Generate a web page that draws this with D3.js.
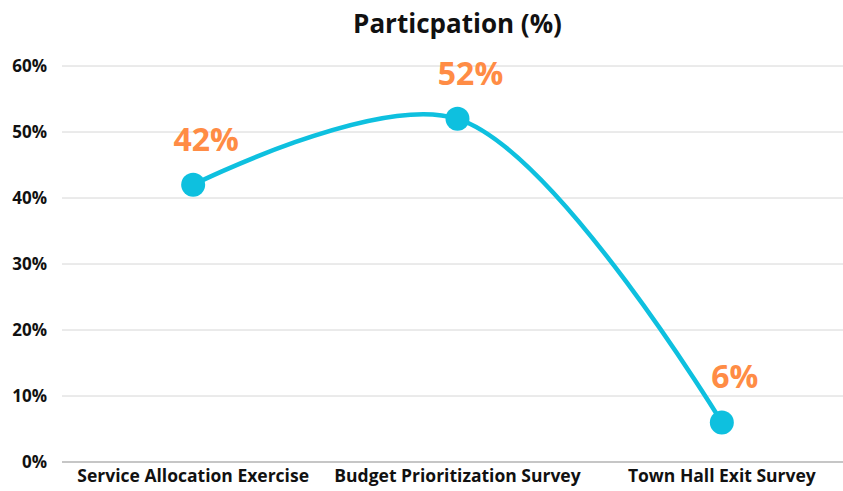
<!DOCTYPE html>
<html>
<head>
<meta charset="utf-8">
<script src="https://cdn.jsdelivr.net/npm/d3@7"></script>
<style>
  body { margin: 0; background: #fff; }
  svg { display: block; font-family: "Open Sans", "Noto Sans", sans-serif; }
</style>
</head>
<body>
<div id="chart"></div>
<script>
// chart data
var categories = ["Service Allocation Exercise", "Budget Prioritization Survey", "Town Hall Exit Survey"];
var participation = [42, 52, 6];
var yTicks = [0, 10, 20, 30, 40, 50, 60];

var svgWidth = 843;
var svgHeight = 491;

var margin = { top: 66, right: -11, bottom: 28, left: 61 };
var chartWidth = svgWidth - margin.left - margin.right;
var chartHeight = svgHeight - margin.top - margin.bottom;

var svg = d3.select("#chart")
  .append("svg")
  .attr("width", svgWidth)
  .attr("height", svgHeight);

var chartGroup = svg.append("g")
  .attr("transform", `translate(${margin.left}, ${margin.top})`);

var x = d3.scaleBand().domain(categories).range([0, chartWidth]);
var y = d3.scaleLinear().domain([0, 60]).range([chartHeight - 1, 0]);

var data = categories.map(function(c, i) {
  return { cat: c, value: participation[i] };
});

// gridlines
chartGroup.selectAll(".grid")
  .data(yTicks)
  .enter().append("line")
  .attr("x1", 1)
  .attr("x2", chartWidth)
  .attr("y1", d => y(d))
  .attr("y2", d => y(d))
  .attr("stroke", d => d === 0 ? "#b3b3b3" : "#d6d6d6")
  .attr("stroke-width", d => d === 0 ? 1.5 : 1);

// y axis labels
var yAxis = chartGroup.append("g")
  .call(d3.axisLeft(y).tickValues(yTicks).tickFormat(d => d + "%").tickSize(0).tickPadding(14));
yAxis.select(".domain").remove();
yAxis.selectAll("text")
  .attr("font-family", "'Open Sans', sans-serif")
  .attr("font-size", "17px")
  .attr("font-weight", "bold")
  .attr("fill", "#111");

// x axis labels
var xAxis = chartGroup.append("g")
  .attr("transform", `translate(0, ${chartHeight})`)
  .call(d3.axisBottom(x).tickSize(0).tickPadding(7));
xAxis.select(".domain").remove();
xAxis.selectAll("text")
  .attr("font-family", "'Open Sans', sans-serif")
  .attr("font-size", "17.5px")
  .attr("font-weight", "bold")
  .attr("fill", "#111");

// smooth line
var line = d3.line()
  .x(d => x(d.cat) + x.bandwidth() / 2)
  .y(d => y(d.value))
  .curve(d3.curveCatmullRom.alpha(0.5));

chartGroup.append("path")
  .datum(data)
  .attr("fill", "none")
  .attr("stroke", "#0ec0df")
  .attr("stroke-width", 4.5)
  .attr("d", line);

chartGroup.selectAll(".dot")
  .data(data)
  .enter().append("circle")
  .attr("cx", d => x(d.cat) + x.bandwidth() / 2)
  .attr("cy", d => y(d.value))
  .attr("r", 12)
  .attr("fill", "#0ec0df");

// value labels
chartGroup.selectAll(".lbl")
  .data(data)
  .enter().append("text")
  .attr("x", d => x(d.cat) + x.bandwidth() / 2 + 13)
  .attr("y", d => y(d.value) - 34)
  .attr("text-anchor", "middle")
  .attr("font-family", "'Open Sans', sans-serif")
  .attr("font-size", "32px")
  .attr("font-weight", "bold")
  .attr("fill", "#ff8c45")
  .text(d => d.value + "%");

// title
svg.append("text")
  .attr("x", margin.left + chartWidth / 2)
  .attr("y", 33)
  .attr("text-anchor", "middle")
  .attr("font-family", "'Open Sans', sans-serif")
  .attr("font-size", "26px")
  .attr("font-weight", "bold")
  .attr("fill", "#111")
  .text("Particpation (%)");
</script>
</body>
</html>
